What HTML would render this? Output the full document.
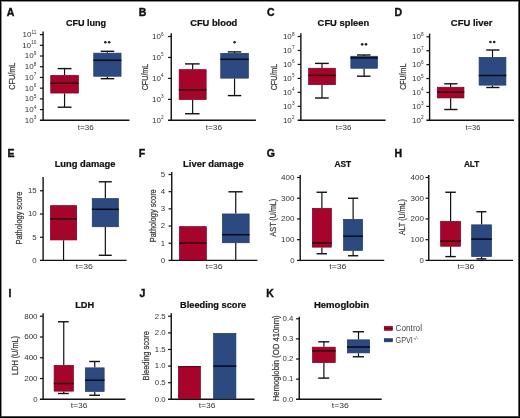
<!DOCTYPE html>
<html><head><meta charset="utf-8"><style>
html,body{margin:0;padding:0;background:#fff;}
body{width:520px;height:418px;overflow:hidden;}
svg{position:absolute;left:0;top:0;will-change:transform;}
text{font-family:"Liberation Sans", sans-serif;}
</style></head><body>

<svg width="520" height="418" viewBox="0 0 520 418">
<text x="6.7" y="15.8" font-size="10.5" font-weight="bold" fill="#111" stroke="#111" stroke-width="0.4">A</text>
<text x="138.8" y="15.8" font-size="10.5" font-weight="bold" fill="#111" stroke="#111" stroke-width="0.4">B</text>
<text x="267.0" y="15.6" font-size="10.5" font-weight="bold" fill="#111" stroke="#111" stroke-width="0.4">C</text>
<text x="394.6" y="15.8" font-size="10.5" font-weight="bold" fill="#111" stroke="#111" stroke-width="0.4">D</text>
<text x="86.00" y="26.3" font-size="9" text-anchor="middle" font-weight="bold" fill="#111" stroke="#111" stroke-width="0.22" textLength="40.2" lengthAdjust="spacingAndGlyphs">CFU lung</text>
<text x="213.75" y="26.3" font-size="9" text-anchor="middle" font-weight="bold" fill="#111" stroke="#111" stroke-width="0.22" textLength="47.2" lengthAdjust="spacingAndGlyphs">CFU blood</text>
<text x="343.38" y="26.3" font-size="9" text-anchor="middle" font-weight="bold" fill="#111" stroke="#111" stroke-width="0.22" textLength="51.5" lengthAdjust="spacingAndGlyphs">CFU spleen</text>
<text x="471.62" y="26.3" font-size="9" text-anchor="middle" font-weight="bold" fill="#111" stroke="#111" stroke-width="0.22" textLength="41.5" lengthAdjust="spacingAndGlyphs">CFU liver</text>
<line x1="43.1" y1="31.6" x2="43.1" y2="120.95" stroke="#111111" stroke-width="1.4"/>
<line x1="39.9" y1="120.3" x2="129.5" y2="120.3" stroke="#111111" stroke-width="1.4"/>
<line x1="39.9" y1="34.6" x2="43.1" y2="34.6" stroke="#111111" stroke-width="1.2"/>
<text x="36.4" y="37.00" font-size="8" text-anchor="end" fill="#333333">10<tspan font-size="4.7" dy="-3.4" dx="0.1">11</tspan></text>
<line x1="39.9" y1="45.3125" x2="43.1" y2="45.3125" stroke="#111111" stroke-width="1.2"/>
<text x="36.4" y="47.71" font-size="8" text-anchor="end" fill="#333333">10<tspan font-size="4.7" dy="-3.4" dx="0.1">10</tspan></text>
<line x1="39.9" y1="56.025" x2="43.1" y2="56.025" stroke="#111111" stroke-width="1.2"/>
<text x="36.4" y="58.42" font-size="8" text-anchor="end" fill="#333333">10<tspan font-size="4.7" dy="-3.4" dx="0.1">9</tspan></text>
<line x1="39.9" y1="66.7375" x2="43.1" y2="66.7375" stroke="#111111" stroke-width="1.2"/>
<text x="36.4" y="69.14" font-size="8" text-anchor="end" fill="#333333">10<tspan font-size="4.7" dy="-3.4" dx="0.1">8</tspan></text>
<line x1="39.9" y1="77.44999999999999" x2="43.1" y2="77.44999999999999" stroke="#111111" stroke-width="1.2"/>
<text x="36.4" y="79.85" font-size="8" text-anchor="end" fill="#333333">10<tspan font-size="4.7" dy="-3.4" dx="0.1">7</tspan></text>
<line x1="39.9" y1="88.1625" x2="43.1" y2="88.1625" stroke="#111111" stroke-width="1.2"/>
<text x="36.4" y="90.56" font-size="8" text-anchor="end" fill="#333333">10<tspan font-size="4.7" dy="-3.4" dx="0.1">6</tspan></text>
<line x1="39.9" y1="98.875" x2="43.1" y2="98.875" stroke="#111111" stroke-width="1.2"/>
<text x="36.4" y="101.28" font-size="8" text-anchor="end" fill="#333333">10<tspan font-size="4.7" dy="-3.4" dx="0.1">5</tspan></text>
<line x1="39.9" y1="109.58749999999998" x2="43.1" y2="109.58749999999998" stroke="#111111" stroke-width="1.2"/>
<text x="36.4" y="111.99" font-size="8" text-anchor="end" fill="#333333">10<tspan font-size="4.7" dy="-3.4" dx="0.1">4</tspan></text>
<text x="36.4" y="122.70" font-size="8" text-anchor="end" fill="#333333">10<tspan font-size="4.7" dy="-3.4" dx="0.1">3</tspan></text>
<line x1="64.55" y1="75.1" x2="64.55" y2="68.6" stroke="#111111" stroke-width="1.2"/>
<line x1="57.7" y1="68.6" x2="71.5" y2="68.6" stroke="#111111" stroke-width="1.4"/>
<line x1="64.55" y1="93.4" x2="64.55" y2="107.2" stroke="#111111" stroke-width="1.2"/>
<line x1="57.7" y1="107.2" x2="71.5" y2="107.2" stroke="#111111" stroke-width="1.4"/>
<rect x="50.75" y="75.45" width="27.60" height="17.60" fill="#a6042b" stroke="#7c0022" stroke-width="0.7"/>
<line x1="50.4" y1="83.2" x2="78.7" y2="83.2" stroke="#2a0008" stroke-width="1.5"/>
<line x1="107.4" y1="52.8" x2="107.4" y2="51.3" stroke="#111111" stroke-width="1.2"/>
<line x1="100.75" y1="51.3" x2="114.25" y2="51.3" stroke="#111111" stroke-width="1.4"/>
<line x1="107.4" y1="76.6" x2="107.4" y2="78.7" stroke="#111111" stroke-width="1.2"/>
<line x1="100.75" y1="78.7" x2="114.25" y2="78.7" stroke="#111111" stroke-width="1.4"/>
<rect x="93.75" y="53.15" width="27.30" height="23.10" fill="#2d4a80" stroke="#203864" stroke-width="0.7"/>
<line x1="93.4" y1="60.3" x2="121.4" y2="60.3" stroke="#03081a" stroke-width="1.5"/>
<circle cx="105.35" cy="42.2" r="1.3" fill="#222"/>
<circle cx="109.15" cy="42.2" r="1.3" fill="#222"/>
<text transform="translate(15.40,76.15) rotate(-90)" x="0" y="0" font-size="8.2" text-anchor="middle" fill="#3d3d3d" stroke="#3d3d3d" stroke-width="0.25" textLength="27.1" lengthAdjust="spacingAndGlyphs">CFU/mL</text>
<text x="85.75" y="130.2" font-size="7.8" text-anchor="middle" fill="#333333" textLength="15.9" lengthAdjust="spacingAndGlyphs">t=36</text>
<line x1="171.25" y1="33.2" x2="171.25" y2="120.95" stroke="#111111" stroke-width="1.4"/>
<line x1="168.05" y1="120.3" x2="255.9" y2="120.3" stroke="#111111" stroke-width="1.4"/>
<line x1="168.05" y1="36.5" x2="171.25" y2="36.5" stroke="#111111" stroke-width="1.2"/>
<text x="163.6" y="38.90" font-size="8" text-anchor="end" fill="#333333">10<tspan font-size="4.7" dy="-3.4" dx="0.1">6</tspan></text>
<line x1="168.05" y1="57.45" x2="171.25" y2="57.45" stroke="#111111" stroke-width="1.2"/>
<text x="163.6" y="59.85" font-size="8" text-anchor="end" fill="#333333">10<tspan font-size="4.7" dy="-3.4" dx="0.1">5</tspan></text>
<line x1="168.05" y1="78.4" x2="171.25" y2="78.4" stroke="#111111" stroke-width="1.2"/>
<text x="163.6" y="80.80" font-size="8" text-anchor="end" fill="#333333">10<tspan font-size="4.7" dy="-3.4" dx="0.1">4</tspan></text>
<line x1="168.05" y1="99.35" x2="171.25" y2="99.35" stroke="#111111" stroke-width="1.2"/>
<text x="163.6" y="101.75" font-size="8" text-anchor="end" fill="#333333">10<tspan font-size="4.7" dy="-3.4" dx="0.1">3</tspan></text>
<text x="163.6" y="122.70" font-size="8" text-anchor="end" fill="#333333">10<tspan font-size="4.7" dy="-3.4" dx="0.1">2</tspan></text>
<line x1="192.65" y1="69.3" x2="192.65" y2="63.9" stroke="#111111" stroke-width="1.2"/>
<line x1="185" y1="63.9" x2="199.6" y2="63.9" stroke="#111111" stroke-width="1.4"/>
<line x1="192.65" y1="99.9" x2="192.65" y2="113.75" stroke="#111111" stroke-width="1.2"/>
<line x1="185" y1="113.75" x2="199.6" y2="113.75" stroke="#111111" stroke-width="1.4"/>
<rect x="179.15" y="69.65" width="27.00" height="29.90" fill="#a6042b" stroke="#7c0022" stroke-width="0.7"/>
<line x1="178.8" y1="89.9" x2="206.5" y2="89.9" stroke="#2a0008" stroke-width="1.5"/>
<line x1="234.55" y1="53" x2="234.55" y2="51.9" stroke="#111111" stroke-width="1.2"/>
<line x1="227.8" y1="51.9" x2="241.3" y2="51.9" stroke="#111111" stroke-width="1.4"/>
<line x1="234.55" y1="78.5" x2="234.55" y2="95.6" stroke="#111111" stroke-width="1.2"/>
<line x1="227.8" y1="95.6" x2="241.3" y2="95.6" stroke="#111111" stroke-width="1.4"/>
<rect x="220.75" y="53.35" width="27.60" height="24.80" fill="#2d4a80" stroke="#203864" stroke-width="0.7"/>
<line x1="220.4" y1="59.3" x2="248.7" y2="59.3" stroke="#03081a" stroke-width="1.5"/>
<circle cx="234.60" cy="42.3" r="1.3" fill="#222"/>
<text transform="translate(147.50,77.00) rotate(-90)" x="0" y="0" font-size="8.2" text-anchor="middle" fill="#3d3d3d" stroke="#3d3d3d" stroke-width="0.25" textLength="26.6" lengthAdjust="spacingAndGlyphs">CFU/mL</text>
<text x="213.88" y="130.2" font-size="7.8" text-anchor="middle" fill="#333333" textLength="16.2" lengthAdjust="spacingAndGlyphs">t=36</text>
<line x1="300.85" y1="33.2" x2="300.85" y2="120.95" stroke="#111111" stroke-width="1.4"/>
<line x1="297.65000000000003" y1="120.3" x2="385.6" y2="120.3" stroke="#111111" stroke-width="1.4"/>
<line x1="297.65000000000003" y1="36.5" x2="300.85" y2="36.5" stroke="#111111" stroke-width="1.2"/>
<text x="294.5" y="38.90" font-size="8" text-anchor="end" fill="#333333">10<tspan font-size="4.7" dy="-3.4" dx="0.1">8</tspan></text>
<line x1="297.65000000000003" y1="50.46666666666667" x2="300.85" y2="50.46666666666667" stroke="#111111" stroke-width="1.2"/>
<text x="294.5" y="52.87" font-size="8" text-anchor="end" fill="#333333">10<tspan font-size="4.7" dy="-3.4" dx="0.1">7</tspan></text>
<line x1="297.65000000000003" y1="64.43333333333334" x2="300.85" y2="64.43333333333334" stroke="#111111" stroke-width="1.2"/>
<text x="294.5" y="66.83" font-size="8" text-anchor="end" fill="#333333">10<tspan font-size="4.7" dy="-3.4" dx="0.1">6</tspan></text>
<line x1="297.65000000000003" y1="78.4" x2="300.85" y2="78.4" stroke="#111111" stroke-width="1.2"/>
<text x="294.5" y="80.80" font-size="8" text-anchor="end" fill="#333333">10<tspan font-size="4.7" dy="-3.4" dx="0.1">5</tspan></text>
<line x1="297.65000000000003" y1="92.36666666666667" x2="300.85" y2="92.36666666666667" stroke="#111111" stroke-width="1.2"/>
<text x="294.5" y="94.77" font-size="8" text-anchor="end" fill="#333333">10<tspan font-size="4.7" dy="-3.4" dx="0.1">4</tspan></text>
<line x1="297.65000000000003" y1="106.33333333333333" x2="300.85" y2="106.33333333333333" stroke="#111111" stroke-width="1.2"/>
<text x="294.5" y="108.73" font-size="8" text-anchor="end" fill="#333333">10<tspan font-size="4.7" dy="-3.4" dx="0.1">3</tspan></text>
<text x="294.5" y="122.70" font-size="8" text-anchor="end" fill="#333333">10<tspan font-size="4.7" dy="-3.4" dx="0.1">2</tspan></text>
<line x1="322.0" y1="67.9" x2="322.0" y2="63.4" stroke="#111111" stroke-width="1.2"/>
<line x1="315" y1="63.4" x2="328.75" y2="63.4" stroke="#111111" stroke-width="1.4"/>
<line x1="322.0" y1="85" x2="322.0" y2="98" stroke="#111111" stroke-width="1.2"/>
<line x1="315" y1="98" x2="328.75" y2="98" stroke="#111111" stroke-width="1.4"/>
<rect x="308.60" y="68.25" width="26.80" height="16.40" fill="#a6042b" stroke="#7c0022" stroke-width="0.7"/>
<line x1="308.25" y1="75.4" x2="335.75" y2="75.4" stroke="#2a0008" stroke-width="1.5"/>
<line x1="364.125" y1="55.9" x2="364.125" y2="55" stroke="#111111" stroke-width="1.2"/>
<line x1="357" y1="55" x2="370.5" y2="55" stroke="#111111" stroke-width="1.4"/>
<line x1="364.125" y1="68.6" x2="364.125" y2="76.2" stroke="#111111" stroke-width="1.2"/>
<line x1="357" y1="76.2" x2="370.5" y2="76.2" stroke="#111111" stroke-width="1.4"/>
<rect x="350.85" y="56.25" width="26.55" height="12.00" fill="#2d4a80" stroke="#203864" stroke-width="0.7"/>
<line x1="350.5" y1="57.9" x2="377.75" y2="57.9" stroke="#03081a" stroke-width="1.5"/>
<circle cx="362.20" cy="44.35" r="1.3" fill="#222"/>
<circle cx="366.00" cy="44.35" r="1.3" fill="#222"/>
<text transform="translate(277.30,77.00) rotate(-90)" x="0" y="0" font-size="8.2" text-anchor="middle" fill="#3d3d3d" stroke="#3d3d3d" stroke-width="0.25" textLength="26.6" lengthAdjust="spacingAndGlyphs">CFU/mL</text>
<text x="343.62" y="130.2" font-size="7.8" text-anchor="middle" fill="#333333" textLength="15.8" lengthAdjust="spacingAndGlyphs">t=36</text>
<line x1="429.6" y1="33.6" x2="429.6" y2="120.95" stroke="#111111" stroke-width="1.4"/>
<line x1="426.40000000000003" y1="120.3" x2="514" y2="120.3" stroke="#111111" stroke-width="1.4"/>
<line x1="426.40000000000003" y1="36.8" x2="429.6" y2="36.8" stroke="#111111" stroke-width="1.2"/>
<text x="423.6" y="39.20" font-size="8" text-anchor="end" fill="#333333">10<tspan font-size="4.7" dy="-3.4" dx="0.1">8</tspan></text>
<line x1="426.40000000000003" y1="50.71666666666666" x2="429.6" y2="50.71666666666666" stroke="#111111" stroke-width="1.2"/>
<text x="423.6" y="53.12" font-size="8" text-anchor="end" fill="#333333">10<tspan font-size="4.7" dy="-3.4" dx="0.1">7</tspan></text>
<line x1="426.40000000000003" y1="64.63333333333333" x2="429.6" y2="64.63333333333333" stroke="#111111" stroke-width="1.2"/>
<text x="423.6" y="67.03" font-size="8" text-anchor="end" fill="#333333">10<tspan font-size="4.7" dy="-3.4" dx="0.1">6</tspan></text>
<line x1="426.40000000000003" y1="78.55" x2="429.6" y2="78.55" stroke="#111111" stroke-width="1.2"/>
<text x="423.6" y="80.95" font-size="8" text-anchor="end" fill="#333333">10<tspan font-size="4.7" dy="-3.4" dx="0.1">5</tspan></text>
<line x1="426.40000000000003" y1="92.46666666666667" x2="429.6" y2="92.46666666666667" stroke="#111111" stroke-width="1.2"/>
<text x="423.6" y="94.87" font-size="8" text-anchor="end" fill="#333333">10<tspan font-size="4.7" dy="-3.4" dx="0.1">4</tspan></text>
<line x1="426.40000000000003" y1="106.38333333333333" x2="429.6" y2="106.38333333333333" stroke="#111111" stroke-width="1.2"/>
<text x="423.6" y="108.78" font-size="8" text-anchor="end" fill="#333333">10<tspan font-size="4.7" dy="-3.4" dx="0.1">3</tspan></text>
<text x="423.6" y="122.70" font-size="8" text-anchor="end" fill="#333333">10<tspan font-size="4.7" dy="-3.4" dx="0.1">2</tspan></text>
<line x1="450.65" y1="86.9" x2="450.65" y2="83.8" stroke="#111111" stroke-width="1.2"/>
<line x1="444.25" y1="83.8" x2="457.5" y2="83.8" stroke="#111111" stroke-width="1.4"/>
<line x1="450.65" y1="98.3" x2="450.65" y2="109.5" stroke="#111111" stroke-width="1.2"/>
<line x1="444.25" y1="109.5" x2="457.5" y2="109.5" stroke="#111111" stroke-width="1.4"/>
<rect x="437.35" y="87.25" width="26.60" height="10.70" fill="#a6042b" stroke="#7c0022" stroke-width="0.7"/>
<line x1="437" y1="92.1" x2="464.3" y2="92.1" stroke="#2a0008" stroke-width="1.5"/>
<line x1="492.5" y1="57" x2="492.5" y2="50" stroke="#111111" stroke-width="1.2"/>
<line x1="486.25" y1="50" x2="499.5" y2="50" stroke="#111111" stroke-width="1.4"/>
<line x1="492.5" y1="85.5" x2="492.5" y2="87.5" stroke="#111111" stroke-width="1.2"/>
<line x1="486.25" y1="87.5" x2="499.5" y2="87.5" stroke="#111111" stroke-width="1.4"/>
<rect x="479.10" y="57.35" width="26.80" height="27.80" fill="#2d4a80" stroke="#203864" stroke-width="0.7"/>
<line x1="478.75" y1="75.5" x2="506.25" y2="75.5" stroke="#03081a" stroke-width="1.5"/>
<circle cx="490.40" cy="42" r="1.3" fill="#222"/>
<circle cx="494.20" cy="42" r="1.3" fill="#222"/>
<text transform="translate(405.60,76.75) rotate(-90)" x="0" y="0" font-size="8.2" text-anchor="middle" fill="#3d3d3d" stroke="#3d3d3d" stroke-width="0.25" textLength="26.1" lengthAdjust="spacingAndGlyphs">CFU/mL</text>
<text x="473.00" y="130.2" font-size="7.8" text-anchor="middle" fill="#333333" textLength="15.0" lengthAdjust="spacingAndGlyphs">t=36</text>
<text x="7.6" y="157.2" font-size="10.5" font-weight="bold" fill="#111" stroke="#111" stroke-width="0.4">E</text>
<text x="138.8" y="157.2" font-size="10.5" font-weight="bold" fill="#111" stroke="#111" stroke-width="0.4">F</text>
<text x="266.8" y="157.2" font-size="10.5" font-weight="bold" fill="#111" stroke="#111" stroke-width="0.4">G</text>
<text x="394.6" y="157.2" font-size="10.5" font-weight="bold" fill="#111" stroke="#111" stroke-width="0.4">H</text>
<text x="85.00" y="167" font-size="9" text-anchor="middle" font-weight="bold" fill="#111" stroke="#111" stroke-width="0.22" textLength="60.7" lengthAdjust="spacingAndGlyphs">Lung damage</text>
<text x="213.38" y="167" font-size="9" text-anchor="middle" font-weight="bold" fill="#111" stroke="#111" stroke-width="0.22" textLength="60.5" lengthAdjust="spacingAndGlyphs">Liver damage</text>
<text x="342.75" y="167" font-size="9" text-anchor="middle" font-weight="bold" fill="#111" stroke="#111" stroke-width="0.22" textLength="16.7" lengthAdjust="spacingAndGlyphs">AST</text>
<text x="471.62" y="167" font-size="9" text-anchor="middle" font-weight="bold" fill="#111" stroke="#111" stroke-width="0.22" textLength="15.4" lengthAdjust="spacingAndGlyphs">ALT</text>
<line x1="43.1" y1="177" x2="43.1" y2="261.04999999999995" stroke="#111111" stroke-width="1.4"/>
<line x1="39.9" y1="260.4" x2="126.6" y2="260.4" stroke="#111111" stroke-width="1.4"/>
<line x1="40" y1="190.75" x2="43.1" y2="190.75" stroke="#111111" stroke-width="1.2"/>
<text x="36.6" y="193.05" font-size="7.8" text-anchor="end" font-weight="normal" fill="#333333" >15</text>
<line x1="40" y1="214" x2="43.1" y2="214" stroke="#111111" stroke-width="1.2"/>
<text x="36.6" y="216.30" font-size="7.8" text-anchor="end" font-weight="normal" fill="#333333" >10</text>
<line x1="40" y1="237.25" x2="43.1" y2="237.25" stroke="#111111" stroke-width="1.2"/>
<text x="36.6" y="239.55" font-size="7.8" text-anchor="end" font-weight="normal" fill="#333333" >5</text>
<text x="36.6" y="262.7" font-size="7.8" text-anchor="end" font-weight="normal" fill="#333333" >0</text>
<line x1="63.55" y1="240.3" x2="63.55" y2="260.4" stroke="#111111" stroke-width="1.2"/>
<rect x="50.45" y="205.65" width="26.20" height="34.30" fill="#a6042b" stroke="#7c0022" stroke-width="0.7"/>
<line x1="50.1" y1="218.8" x2="77" y2="218.8" stroke="#2a0008" stroke-width="1.5"/>
<line x1="105.35" y1="198.2" x2="105.35" y2="181.8" stroke="#111111" stroke-width="1.2"/>
<line x1="98.75" y1="181.8" x2="111.75" y2="181.8" stroke="#111111" stroke-width="1.4"/>
<line x1="105.35" y1="227.1" x2="105.35" y2="255.3" stroke="#111111" stroke-width="1.2"/>
<line x1="98.75" y1="255.3" x2="111.75" y2="255.3" stroke="#111111" stroke-width="1.4"/>
<rect x="92.25" y="198.55" width="26.20" height="28.20" fill="#2d4a80" stroke="#203864" stroke-width="0.7"/>
<line x1="91.9" y1="209.3" x2="118.8" y2="209.3" stroke="#03081a" stroke-width="1.5"/>
<text transform="translate(22.40,218.05) rotate(-90)" x="0" y="0" font-size="8.2" text-anchor="middle" fill="#3d3d3d" stroke="#3d3d3d" stroke-width="0.25" textLength="52.9" lengthAdjust="spacingAndGlyphs">Pathology score</text>
<text x="84.38" y="269.3" font-size="7.8" text-anchor="middle" fill="#333333" textLength="17.2" lengthAdjust="spacingAndGlyphs">t=36</text>
<line x1="171.75" y1="172" x2="171.75" y2="261.04999999999995" stroke="#111111" stroke-width="1.4"/>
<line x1="168.55" y1="260.4" x2="257.4" y2="260.4" stroke="#111111" stroke-width="1.4"/>
<line x1="168.55" y1="174.5" x2="171.75" y2="174.5" stroke="#111111" stroke-width="1.2"/>
<text x="165.2" y="176.80" font-size="7.8" text-anchor="end" font-weight="normal" fill="#333333" >5</text>
<line x1="168.55" y1="191.68" x2="171.75" y2="191.68" stroke="#111111" stroke-width="1.2"/>
<text x="165.2" y="193.98" font-size="7.8" text-anchor="end" font-weight="normal" fill="#333333" >4</text>
<line x1="168.55" y1="208.85999999999999" x2="171.75" y2="208.85999999999999" stroke="#111111" stroke-width="1.2"/>
<text x="165.2" y="211.16" font-size="7.8" text-anchor="end" font-weight="normal" fill="#333333" >3</text>
<line x1="168.55" y1="226.04" x2="171.75" y2="226.04" stroke="#111111" stroke-width="1.2"/>
<text x="165.2" y="228.34" font-size="7.8" text-anchor="end" font-weight="normal" fill="#333333" >2</text>
<line x1="168.55" y1="243.21999999999997" x2="171.75" y2="243.21999999999997" stroke="#111111" stroke-width="1.2"/>
<text x="165.2" y="245.52" font-size="7.8" text-anchor="end" font-weight="normal" fill="#333333" >1</text>
<text x="165.2" y="262.70" font-size="7.8" text-anchor="end" font-weight="normal" fill="#333333" >0</text>
<rect x="179.45" y="226.65" width="26.90" height="33.40" fill="#a6042b" stroke="#7c0022" stroke-width="0.7"/>
<line x1="179.1" y1="243.1" x2="206.7" y2="243.1" stroke="#2a0008" stroke-width="1.5"/>
<line x1="235.75" y1="213.6" x2="235.75" y2="191.8" stroke="#111111" stroke-width="1.2"/>
<line x1="228.4" y1="191.8" x2="242.6" y2="191.8" stroke="#111111" stroke-width="1.4"/>
<line x1="235.75" y1="243.1" x2="235.75" y2="260.4" stroke="#111111" stroke-width="1.2"/>
<rect x="222.35" y="213.95" width="26.80" height="28.80" fill="#2d4a80" stroke="#203864" stroke-width="0.7"/>
<line x1="222" y1="234.7" x2="249.5" y2="234.7" stroke="#03081a" stroke-width="1.5"/>
<text transform="translate(155.50,215.75) rotate(-90)" x="0" y="0" font-size="8.2" text-anchor="middle" fill="#3d3d3d" stroke="#3d3d3d" stroke-width="0.25" textLength="52.9" lengthAdjust="spacingAndGlyphs">Pathology score</text>
<text x="214.12" y="269.3" font-size="7.8" text-anchor="middle" fill="#333333" textLength="16.8" lengthAdjust="spacingAndGlyphs">t=36</text>
<line x1="300.2" y1="175" x2="300.2" y2="261.04999999999995" stroke="#111111" stroke-width="1.4"/>
<line x1="297.0" y1="260.4" x2="384.25" y2="260.4" stroke="#111111" stroke-width="1.4"/>
<line x1="297.0" y1="177.5" x2="300.2" y2="177.5" stroke="#111111" stroke-width="1.2"/>
<text x="294.5" y="179.80" font-size="7.8" text-anchor="end" font-weight="normal" fill="#333333" textLength="13.4" lengthAdjust="spacingAndGlyphs">400</text>
<line x1="297.0" y1="198.225" x2="300.2" y2="198.225" stroke="#111111" stroke-width="1.2"/>
<text x="294.5" y="200.53" font-size="7.8" text-anchor="end" font-weight="normal" fill="#333333" textLength="13.4" lengthAdjust="spacingAndGlyphs">300</text>
<line x1="297.0" y1="218.95" x2="300.2" y2="218.95" stroke="#111111" stroke-width="1.2"/>
<text x="294.5" y="221.25" font-size="7.8" text-anchor="end" font-weight="normal" fill="#333333" textLength="13.4" lengthAdjust="spacingAndGlyphs">200</text>
<line x1="297.0" y1="239.67499999999998" x2="300.2" y2="239.67499999999998" stroke="#111111" stroke-width="1.2"/>
<text x="294.5" y="241.97" font-size="7.8" text-anchor="end" font-weight="normal" fill="#333333" textLength="13.4" lengthAdjust="spacingAndGlyphs">100</text>
<text x="294.5" y="262.70" font-size="7.8" text-anchor="end" font-weight="normal" fill="#333333" >0</text>
<line x1="321.875" y1="208" x2="321.875" y2="192.25" stroke="#111111" stroke-width="1.2"/>
<line x1="316.5" y1="192.25" x2="327" y2="192.25" stroke="#111111" stroke-width="1.4"/>
<line x1="321.875" y1="247.5" x2="321.875" y2="253.75" stroke="#111111" stroke-width="1.2"/>
<line x1="316.5" y1="253.75" x2="327" y2="253.75" stroke="#111111" stroke-width="1.4"/>
<rect x="312.35" y="208.35" width="19.05" height="38.80" fill="#a6042b" stroke="#7c0022" stroke-width="0.7"/>
<line x1="312" y1="243" x2="331.75" y2="243" stroke="#2a0008" stroke-width="1.5"/>
<line x1="353.125" y1="219" x2="353.125" y2="198.25" stroke="#111111" stroke-width="1.2"/>
<line x1="348" y1="198.25" x2="358.25" y2="198.25" stroke="#111111" stroke-width="1.4"/>
<line x1="353.125" y1="250.75" x2="353.125" y2="255.75" stroke="#111111" stroke-width="1.2"/>
<line x1="348" y1="255.75" x2="358.25" y2="255.75" stroke="#111111" stroke-width="1.4"/>
<rect x="343.60" y="219.35" width="19.05" height="31.05" fill="#2d4a80" stroke="#203864" stroke-width="0.7"/>
<line x1="343.25" y1="236.25" x2="363" y2="236.25" stroke="#03081a" stroke-width="1.5"/>
<text transform="translate(276.30,217.60) rotate(-90)" x="0" y="0" font-size="8.2" text-anchor="middle" fill="#3d3d3d" stroke="#3d3d3d" stroke-width="0.25" textLength="37.6" lengthAdjust="spacingAndGlyphs">AST (U/mL)</text>
<text x="337.75" y="269.3" font-size="7.8" text-anchor="middle" fill="#333333" textLength="17.0" lengthAdjust="spacingAndGlyphs">t=36</text>
<line x1="428.75" y1="175" x2="428.75" y2="261.04999999999995" stroke="#111111" stroke-width="1.4"/>
<line x1="425.55" y1="260.4" x2="513" y2="260.4" stroke="#111111" stroke-width="1.4"/>
<line x1="425.55" y1="177.5" x2="428.75" y2="177.5" stroke="#111111" stroke-width="1.2"/>
<text x="423.9" y="179.80" font-size="7.8" text-anchor="end" font-weight="normal" fill="#333333" textLength="13.4" lengthAdjust="spacingAndGlyphs">400</text>
<line x1="425.55" y1="198.225" x2="428.75" y2="198.225" stroke="#111111" stroke-width="1.2"/>
<text x="423.9" y="200.53" font-size="7.8" text-anchor="end" font-weight="normal" fill="#333333" textLength="13.4" lengthAdjust="spacingAndGlyphs">300</text>
<line x1="425.55" y1="218.95" x2="428.75" y2="218.95" stroke="#111111" stroke-width="1.2"/>
<text x="423.9" y="221.25" font-size="7.8" text-anchor="end" font-weight="normal" fill="#333333" textLength="13.4" lengthAdjust="spacingAndGlyphs">200</text>
<line x1="425.55" y1="239.67499999999998" x2="428.75" y2="239.67499999999998" stroke="#111111" stroke-width="1.2"/>
<text x="423.9" y="241.97" font-size="7.8" text-anchor="end" font-weight="normal" fill="#333333" textLength="13.4" lengthAdjust="spacingAndGlyphs">100</text>
<text x="423.9" y="262.70" font-size="7.8" text-anchor="end" font-weight="normal" fill="#333333" >0</text>
<line x1="450.6" y1="221" x2="450.6" y2="192.25" stroke="#111111" stroke-width="1.2"/>
<line x1="445.3" y1="192.25" x2="455.8" y2="192.25" stroke="#111111" stroke-width="1.4"/>
<line x1="450.6" y1="246.6" x2="450.6" y2="256.6" stroke="#111111" stroke-width="1.2"/>
<line x1="445.3" y1="256.6" x2="455.8" y2="256.6" stroke="#111111" stroke-width="1.4"/>
<rect x="440.65" y="221.35" width="19.90" height="24.90" fill="#a6042b" stroke="#7c0022" stroke-width="0.7"/>
<line x1="440.3" y1="241.2" x2="460.9" y2="241.2" stroke="#2a0008" stroke-width="1.5"/>
<line x1="481.6" y1="224.5" x2="481.6" y2="211.75" stroke="#111111" stroke-width="1.2"/>
<line x1="476.4" y1="211.75" x2="486.4" y2="211.75" stroke="#111111" stroke-width="1.4"/>
<line x1="481.6" y1="256.9" x2="481.6" y2="258.9" stroke="#111111" stroke-width="1.2"/>
<line x1="476.4" y1="258.9" x2="486.4" y2="258.9" stroke="#111111" stroke-width="1.4"/>
<rect x="471.65" y="224.85" width="19.90" height="31.70" fill="#2d4a80" stroke="#203864" stroke-width="0.7"/>
<line x1="471.3" y1="239.1" x2="491.9" y2="239.1" stroke="#03081a" stroke-width="1.5"/>
<text transform="translate(405.30,217.10) rotate(-90)" x="0" y="0" font-size="8.2" text-anchor="middle" fill="#3d3d3d" stroke="#3d3d3d" stroke-width="0.25" textLength="36.0" lengthAdjust="spacingAndGlyphs">ALT (U/mL)</text>
<text x="465.88" y="269.3" font-size="7.8" text-anchor="middle" fill="#333333" textLength="16.8" lengthAdjust="spacingAndGlyphs">t=36</text>
<text x="8.6" y="297.2" font-size="10.5" font-weight="bold" fill="#111" stroke="#111" stroke-width="0.4">I</text>
<text x="139.5" y="297.2" font-size="10.5" font-weight="bold" fill="#111" stroke="#111" stroke-width="0.4">J</text>
<text x="266.2" y="297.2" font-size="10.5" font-weight="bold" fill="#111" stroke="#111" stroke-width="0.4">K</text>
<text x="84.62" y="308.3" font-size="9" text-anchor="middle" font-weight="bold" fill="#111" stroke="#111" stroke-width="0.22" textLength="18.9" lengthAdjust="spacingAndGlyphs">LDH</text>
<text x="213.12" y="308.3" font-size="9" text-anchor="middle" font-weight="bold" fill="#111" stroke="#111" stroke-width="0.22" textLength="66.0" lengthAdjust="spacingAndGlyphs">Bleeding score</text>
<text x="341.50" y="308.3" font-size="9" text-anchor="middle" font-weight="bold" fill="#111" stroke="#111" stroke-width="0.22" textLength="55.2" lengthAdjust="spacingAndGlyphs">Hemoglobin</text>
<line x1="43.1" y1="313.25" x2="43.1" y2="399.95" stroke="#111111" stroke-width="1.4"/>
<line x1="39.9" y1="399.3" x2="125.5" y2="399.3" stroke="#111111" stroke-width="1.4"/>
<line x1="39.9" y1="316.25" x2="43.1" y2="316.25" stroke="#111111" stroke-width="1.2"/>
<text x="37.6" y="318.55" font-size="7.8" text-anchor="end" font-weight="normal" fill="#333333" textLength="13.4" lengthAdjust="spacingAndGlyphs">800</text>
<line x1="39.9" y1="337.0125" x2="43.1" y2="337.0125" stroke="#111111" stroke-width="1.2"/>
<text x="37.6" y="339.31" font-size="7.8" text-anchor="end" font-weight="normal" fill="#333333" textLength="13.4" lengthAdjust="spacingAndGlyphs">600</text>
<line x1="39.9" y1="357.775" x2="43.1" y2="357.775" stroke="#111111" stroke-width="1.2"/>
<text x="37.6" y="360.07" font-size="7.8" text-anchor="end" font-weight="normal" fill="#333333" textLength="13.4" lengthAdjust="spacingAndGlyphs">400</text>
<line x1="39.9" y1="378.5375" x2="43.1" y2="378.5375" stroke="#111111" stroke-width="1.2"/>
<text x="37.6" y="380.84" font-size="7.8" text-anchor="end" font-weight="normal" fill="#333333" textLength="13.4" lengthAdjust="spacingAndGlyphs">200</text>
<text x="37.6" y="401.60" font-size="7.8" text-anchor="end" font-weight="normal" fill="#333333" >0</text>
<line x1="63.75" y1="365" x2="63.75" y2="321.75" stroke="#111111" stroke-width="1.2"/>
<line x1="58" y1="321.75" x2="68.75" y2="321.75" stroke="#111111" stroke-width="1.4"/>
<line x1="63.75" y1="391.5" x2="63.75" y2="393.5" stroke="#111111" stroke-width="1.2"/>
<line x1="58" y1="393.5" x2="68.75" y2="393.5" stroke="#111111" stroke-width="1.4"/>
<rect x="54.10" y="365.35" width="19.30" height="25.80" fill="#a6042b" stroke="#7c0022" stroke-width="0.7"/>
<line x1="53.75" y1="383.5" x2="73.75" y2="383.5" stroke="#2a0008" stroke-width="1.5"/>
<line x1="94.75" y1="367.5" x2="94.75" y2="361.5" stroke="#111111" stroke-width="1.2"/>
<line x1="89.25" y1="361.5" x2="100" y2="361.5" stroke="#111111" stroke-width="1.4"/>
<line x1="94.75" y1="391.75" x2="94.75" y2="395.25" stroke="#111111" stroke-width="1.2"/>
<line x1="89.25" y1="395.25" x2="100" y2="395.25" stroke="#111111" stroke-width="1.4"/>
<rect x="85.35" y="367.85" width="18.80" height="23.55" fill="#2d4a80" stroke="#203864" stroke-width="0.7"/>
<line x1="85" y1="380.25" x2="104.5" y2="380.25" stroke="#03081a" stroke-width="1.5"/>
<text transform="translate(18.30,355.50) rotate(-90)" x="0" y="0" font-size="8.2" text-anchor="middle" fill="#3d3d3d" stroke="#3d3d3d" stroke-width="0.25" textLength="38.8" lengthAdjust="spacingAndGlyphs">LDH (U/mL)</text>
<text x="79.12" y="408.0" font-size="7.8" text-anchor="middle" fill="#333333" textLength="16.8" lengthAdjust="spacingAndGlyphs">t=36</text>
<line x1="171.25" y1="313.25" x2="171.25" y2="399.95" stroke="#111111" stroke-width="1.4"/>
<line x1="168.05" y1="399.3" x2="254.5" y2="399.3" stroke="#111111" stroke-width="1.4"/>
<line x1="168.05" y1="316.25" x2="171.25" y2="316.25" stroke="#111111" stroke-width="1.2"/>
<text x="165.7" y="318.55" font-size="7.8" text-anchor="end" font-weight="normal" fill="#333333" >2.5</text>
<line x1="168.05" y1="332.86" x2="171.25" y2="332.86" stroke="#111111" stroke-width="1.2"/>
<text x="165.7" y="335.16" font-size="7.8" text-anchor="end" font-weight="normal" fill="#333333" >2.0</text>
<line x1="168.05" y1="349.47" x2="171.25" y2="349.47" stroke="#111111" stroke-width="1.2"/>
<text x="165.7" y="351.77" font-size="7.8" text-anchor="end" font-weight="normal" fill="#333333" >1.5</text>
<line x1="168.05" y1="366.08000000000004" x2="171.25" y2="366.08000000000004" stroke="#111111" stroke-width="1.2"/>
<text x="165.7" y="368.38" font-size="7.8" text-anchor="end" font-weight="normal" fill="#333333" >1.0</text>
<line x1="168.05" y1="382.69" x2="171.25" y2="382.69" stroke="#111111" stroke-width="1.2"/>
<text x="165.7" y="384.99" font-size="7.8" text-anchor="end" font-weight="normal" fill="#333333" >0.5</text>
<text x="165.7" y="401.60" font-size="7.8" text-anchor="end" font-weight="normal" fill="#333333" >0.0</text>
<rect x="178.35" y="366.45" width="22.05" height="32.50" fill="#a6042b" stroke="#7c0022" stroke-width="0.7"/>
<line x1="178" y1="366.7" x2="200.75" y2="366.7" stroke="#5a0015" stroke-width="1.0"/>
<rect x="213.60" y="333.35" width="22.30" height="65.60" fill="#2d4a80" stroke="#203864" stroke-width="0.7"/>
<line x1="213.25" y1="366.1" x2="236.25" y2="366.1" stroke="#03081a" stroke-width="1.5"/>
<text transform="translate(148.90,355.85) rotate(-90)" x="0" y="0" font-size="8.2" text-anchor="middle" fill="#3d3d3d" stroke="#3d3d3d" stroke-width="0.25" textLength="49.5" lengthAdjust="spacingAndGlyphs">Bleeding score</text>
<text x="207.12" y="408.0" font-size="7.8" text-anchor="middle" fill="#333333" textLength="16.8" lengthAdjust="spacingAndGlyphs">t=36</text>
<line x1="299.25" y1="316.75" x2="299.25" y2="399.95" stroke="#111111" stroke-width="1.4"/>
<line x1="296.05" y1="399.3" x2="381.75" y2="399.3" stroke="#111111" stroke-width="1.4"/>
<line x1="296.05" y1="318.75" x2="299.25" y2="318.75" stroke="#111111" stroke-width="1.2"/>
<text x="293.4" y="321.05" font-size="7.8" text-anchor="end" font-weight="normal" fill="#333333" >0.4</text>
<line x1="296.05" y1="338.8875" x2="299.25" y2="338.8875" stroke="#111111" stroke-width="1.2"/>
<text x="293.4" y="341.19" font-size="7.8" text-anchor="end" font-weight="normal" fill="#333333" >0.3</text>
<line x1="296.05" y1="359.025" x2="299.25" y2="359.025" stroke="#111111" stroke-width="1.2"/>
<text x="293.4" y="361.32" font-size="7.8" text-anchor="end" font-weight="normal" fill="#333333" >0.2</text>
<line x1="296.05" y1="379.1625" x2="299.25" y2="379.1625" stroke="#111111" stroke-width="1.2"/>
<text x="293.4" y="381.46" font-size="7.8" text-anchor="end" font-weight="normal" fill="#333333" >0.1</text>
<text x="293.4" y="401.60" font-size="7.8" text-anchor="end" font-weight="normal" fill="#333333" >0.0</text>
<line x1="323.9" y1="346.8" x2="323.9" y2="341.8" stroke="#111111" stroke-width="1.2"/>
<line x1="318.25" y1="341.8" x2="329.25" y2="341.8" stroke="#111111" stroke-width="1.4"/>
<line x1="323.9" y1="363" x2="323.9" y2="378.1" stroke="#111111" stroke-width="1.2"/>
<line x1="318.25" y1="378.1" x2="329.25" y2="378.1" stroke="#111111" stroke-width="1.4"/>
<rect x="312.55" y="347.15" width="22.70" height="15.50" fill="#a6042b" stroke="#7c0022" stroke-width="0.7"/>
<line x1="312.2" y1="350.8" x2="335.6" y2="350.8" stroke="#2a0008" stroke-width="1.5"/>
<line x1="358.5" y1="339.5" x2="358.5" y2="331.75" stroke="#111111" stroke-width="1.2"/>
<line x1="352.75" y1="331.75" x2="364" y2="331.75" stroke="#111111" stroke-width="1.4"/>
<line x1="358.5" y1="353.25" x2="358.5" y2="356.75" stroke="#111111" stroke-width="1.2"/>
<line x1="352.75" y1="356.75" x2="364" y2="356.75" stroke="#111111" stroke-width="1.4"/>
<rect x="347.35" y="339.85" width="22.30" height="13.05" fill="#2d4a80" stroke="#203864" stroke-width="0.7"/>
<line x1="347" y1="347" x2="370" y2="347" stroke="#03081a" stroke-width="1.5"/>
<text transform="translate(279.30,358.30) rotate(-90)" x="0" y="0" font-size="8.2" text-anchor="middle" fill="#3d3d3d" stroke="#3d3d3d" stroke-width="0.25" textLength="86.0" lengthAdjust="spacingAndGlyphs">Hemoglobin (OD 410nm)</text>
<text x="340.25" y="408.0" font-size="7.8" text-anchor="middle" fill="#333333" textLength="17.0" lengthAdjust="spacingAndGlyphs">t=36</text>
<rect x="384.2" y="326.2" width="8.4" height="4.3" fill="#a6042b" stroke="#7c0022" stroke-width="0.5"/>
<line x1="384.2" y1="328.35" x2="392.6" y2="328.35" stroke="#5a0015" stroke-width="0.9"/>
<rect x="384.2" y="338.5" width="8.4" height="3.4" fill="#2d4a80" stroke="#203864" stroke-width="0.5"/>
<line x1="384.2" y1="340.2" x2="392.6" y2="340.2" stroke="#1a2d55" stroke-width="0.8"/>
<text x="395.6" y="330.8" font-size="8.2" text-anchor="start" font-weight="normal" fill="#444" >Control</text>
<text x="395.6" y="342.7" font-size="8.2" fill="#444" textLength="17.3" lengthAdjust="spacingAndGlyphs">GPVI</text>
<text x="413.6" y="339.6" font-size="5" fill="#444">-/-</text>
<rect x="0" y="0" width="520" height="1" fill="#000"/><rect x="1" y="1" width="517" height="1" fill="#8c8c8c"/>
<rect x="0" y="0" width="1" height="418" fill="#000"/><rect x="1" y="1" width="1" height="416" fill="#8c8c8c"/>
<rect x="519" y="0" width="1" height="418" fill="#000"/><rect x="518" y="1" width="1" height="416" fill="#5a5a5a"/>
<rect x="0" y="417" width="520" height="1" fill="#000"/><rect x="1" y="416" width="518" height="1" fill="#484848"/>
</svg>
</body></html>
